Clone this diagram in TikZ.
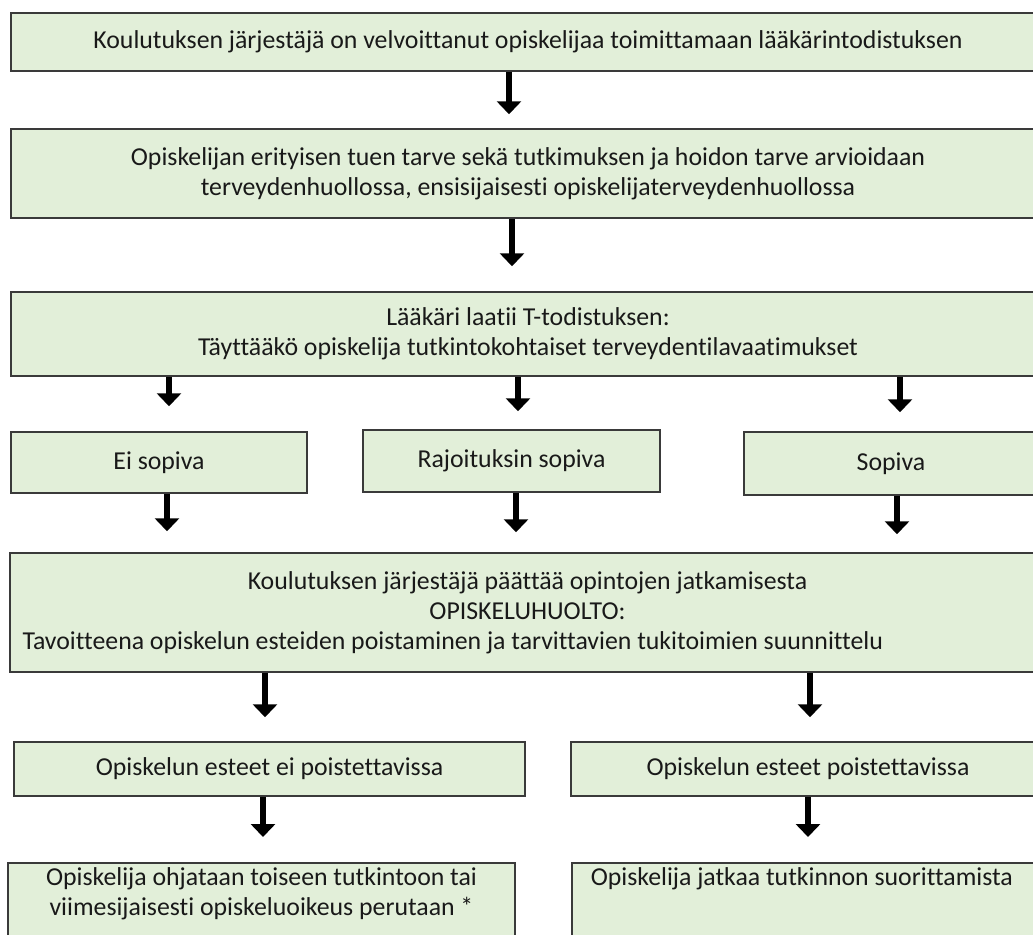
\documentclass[tikz,border=0pt]{standalone}
\usepackage{fontspec}
\setmainfont{Carlito}[Ligatures=CommonOff]
\usetikzlibrary{arrows.meta}
\definecolor{boxfill}{HTML}{E2EFD9}
\definecolor{boxline}{HTML}{3A3A3A}
\newcommand{\boxfont}{\fontsize{25.8}{30}\selectfont}
\tikzset{
  flowbox/.style={draw=boxline, fill=boxfill, line width=1.5pt, inner sep=0pt, align=flush center, font=\boxfont, text=black!90},
  bigarrow/.style={line width=6.5pt, -{Triangle[width=24pt,length=13pt]}},
}

\begin{document}
\begin{tikzpicture}[x=1pt,y=-1pt]
\clip (0,0) rectangle (1033,934);

% main column
\node[flowbox, minimum width=1034pt, minimum height=58pt] (order) at (528,42) {Koulutuksen järjestäjä on velvoittanut opiskelijaa toimittamaan lääkärintodistuksen};
\node[flowbox, minimum width=1034pt, minimum height=89pt] (assessment) at (528,173.5) {Opiskelijan erityisen tuen tarve sekä tutkimuksen ja hoidon tarve arvioidaan\\terveydenhuollossa, ensisijaisesti opiskelijaterveydenhuollossa};
\node[flowbox, minimum width=1034pt, minimum height=84pt] (certificate) at (528,334) {Lääkäri laatii T-todistuksen:\\Täyttääkö opiskelija tutkintokohtaiset terveydentilavaatimukset};

% three outcomes
\node[flowbox, minimum width=296pt, minimum height=61pt] (unfit) at (159,462.5) {Ei sopiva};
\node[flowbox, minimum width=297pt, minimum height=62pt] (limited) at (511.5,461) {Rajoituksin sopiva};
\node[flowbox, minimum width=294pt, minimum height=63pt] (fit) at (891,463.5) {Sopiva};

\node[flowbox, minimum width=1035pt, minimum height=119pt, text width=1010pt] (decision) at (527.5,612.5) {Koulutuksen järjestäjä päättää opintojen jatkamisesta\\OPISKELUHUOLTO:\\\makebox[\linewidth][l]{Tavoitteena opiskelun esteiden poistaminen ja tarvittavien tukitoimien suunnittelu}};

% obstacles
\node[flowbox, minimum width=511pt, minimum height=54pt] (notremovable) at (269.5,769) {Opiskelun esteet ei poistettavissa};
\node[flowbox, minimum width=474pt, minimum height=54pt] (removable) at (808,769) {Opiskelun esteet poistettavissa};

\node[flowbox, anchor=north, minimum width=507pt, inner ysep=5pt, text depth=70pt] (redirect) at (261.5,862) {Opiskelija ohjataan toiseen tutkintoon tai\\viimesijaisesti opiskeluoikeus perutaan *};
\node[flowbox, anchor=north west, text width=436pt, align=flush left, inner xsep=19pt, inner ysep=5pt, text depth=70pt] (continue) at (571,862) {Opiskelija jatkaa tutkinnon suorittamista};

% arrows
\draw[bigarrow, shorten >=14pt] ([xshift=-19pt]order.south) -- ([xshift=-19pt]assessment.north);
\draw[bigarrow, shorten >=25pt] ([xshift=-16pt]assessment.south) -- ([xshift=-16pt]certificate.north);
\draw[bigarrow, shorten >=25pt] ([xshift=10pt]certificate.south -| unfit) -- ([xshift=10pt]unfit.north);
\draw[bigarrow, shorten >=18pt] ([xshift=6.5pt]certificate.south -| limited) -- ([xshift=6.5pt]limited.north);
\draw[bigarrow, shorten >=19pt] ([xshift=9pt]certificate.south -| fit) -- ([xshift=9pt]fit.north);
\draw[bigarrow, shorten >=21pt] ([xshift=8pt]unfit.south) -- ([xshift=8pt]decision.north -| unfit);
\draw[bigarrow, shorten >=20pt] ([xshift=4.5pt]limited.south) -- ([xshift=4.5pt]decision.north -| limited);
\draw[bigarrow, shorten >=18pt] ([xshift=6pt]fit.south) -- ([xshift=6pt]decision.north -| fit);
\draw[bigarrow, shorten >=24pt] ([xshift=-4.5pt]decision.south -| notremovable) -- ([xshift=-4.5pt]notremovable.north);
\draw[bigarrow, shorten >=24pt] ([xshift=2pt]decision.south -| removable) -- ([xshift=2pt]removable.north);
\draw[bigarrow, shorten >=25pt] ([xshift=-6.5pt]notremovable.south) -- ([xshift=-6.5pt]notremovable.south |- redirect.north);
\draw[bigarrow, shorten >=25pt] (removable.south) -- (removable.south |- continue.north);
\end{tikzpicture}
\end{document}
